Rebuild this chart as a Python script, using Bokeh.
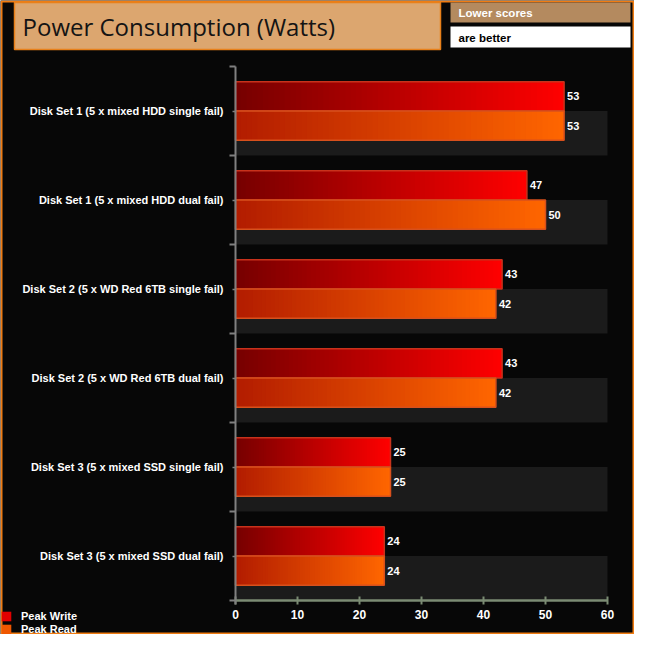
from bokeh.plotting import figure
from bokeh.models import (ColumnDataSource, FixedTicker, Label, BoxAnnotation,
                          Legend, LegendItem, Range1d)
from bokeh.core.properties import value
from bokeh.embed import file_html
from bokeh.resources import INLINE

categories = [
    "Disk Set 1 (5 x mixed HDD single fail)",
    "Disk Set 1 (5 x mixed HDD dual fail)",
    "Disk Set 2 (5 x WD Red 6TB single fail)",
    "Disk Set 2 (5 x WD Red 6TB dual fail)",
    "Disk Set 3 (5 x mixed SSD single fail)",
    "Disk Set 3 (5 x mixed SSD dual fail)",
]
peak_write = [53, 47, 43, 43, 25, 24]
peak_read = [53, 50, 42, 42, 25, 24]
series_names = ["Peak Write", "Peak Read"]
x_ticks = [0, 10, 20, 30, 40, 50, 60]

FONT = "Liberation Sans"
N = 60
n = len(categories)
centers = [n - i - 0.5 for i in range(n)]

W = H = 634
# plot area in canvas pixels
FL, FR, FT, FB = 235, 607, 66, 600
XMAX = 60
px_x = (FR - FL) / XMAX
px_y = (FB - FT) / n

p = figure(width=W, height=H, output_backend="svg", toolbar_location=None,
           x_range=Range1d(-FL / px_x, XMAX + (W - FR) / px_x),
           y_range=Range1d(-(H - FB) / px_y, n + FT / px_y),
           min_border=0)
p.background_fill_color = "#070707"
p.border_fill_color = "#070707"
p.outline_line_color = None
p.grid.visible = False

# lighter bands (lower half of each category)
p.hbar(y=[c - 0.25 for c in centers], left=0, right=XMAX, height=0.5,
       fill_color="#1b1b1b", line_color=None)


def lerp(c1, c2, t):
    return "#%02x%02x%02x" % tuple(int(round(a + (b - a) * t)) for a, b in zip(c1, c2))


def gradient_bars(vals, off, c_lo, c_hi, line_col):
    # overlapping slices 0..v*k/N, longest (brightest) first -> smooth gradient
    ys, rs, cs = [], [], []
    for k in range(N, 0, -1):
        for c, v in zip(centers, vals):
            ys.append(c + off)
            rs.append(v * k / N)
            cs.append(lerp(c_lo, c_hi, (k - 0.5) / N))
    src = ColumnDataSource(dict(y=ys, right=rs, color=cs))
    r = p.hbar(y="y", left=0, right="right", height=0.33, source=src,
               fill_color="color", line_color=None)
    p.hbar(y=[c + off for c in centers], left=0, right=vals, height=0.33,
           fill_color=None, line_color=line_col, line_width=1.5)
    p.text(x=vals, y=[c + off for c in centers], text=[str(v) for v in vals],
           x_offset=3, text_color="white", text_font=value(FONT),
           text_font_style="bold", text_font_size="11px",
           text_baseline="middle", text_align="left")
    return r


rw = gradient_bars(peak_write, 0.165, (118, 0, 0), (255, 0, 0), "#c8321c")
rr = gradient_bars(peak_read, -0.165, (178, 28, 0), (255, 102, 0), "#d8501c")

legend = Legend(items=[LegendItem(label=series_names[0], renderers=[rw], index=n * 12),
                       LegendItem(label=series_names[1], renderers=[rr], index=n * 12)],
                location=(0, -1), orientation="vertical",
                background_fill_alpha=0, border_line_alpha=0,
                label_text_color="white", label_text_font=FONT,
                label_text_font_style="bold", label_text_font_size="11px",
                glyph_width=12, glyph_height=12, spacing=1, padding=0, margin=0,
                label_standoff=9, label_height=12)
p.add_layout(legend, "center")

# axes fixed at the data origin
xa = p.xaxis[0]
xa.fixed_location = 0
xa.bounds = (0, XMAX)
xa.ticker = FixedTicker(ticks=x_ticks)
xa.axis_line_color = "#7b8b73"
xa.axis_line_width = 2.5
xa.major_tick_line_color = "#7b8b73"
xa.major_tick_line_width = 2
xa.major_tick_in = 4
xa.major_tick_out = 4
xa.minor_tick_line_color = None
xa.major_label_text_color = "white"
xa.major_label_text_font = FONT
xa.major_label_text_font_style = "bold"
xa.major_label_text_font_size = "12px"
xa.major_label_standoff = 5

ya = p.yaxis[0]
ya.fixed_location = 0
ya.bounds = (-0.05, n)
ya.ticker = FixedTicker(ticks=centers, minor_ticks=list(range(n + 1)))
ya.major_label_overrides = {c: cat for c, cat in zip(centers, categories)}
ya.axis_line_color = "#808080"
ya.axis_line_width = 2
ya.major_tick_line_color = "#808080"
ya.major_tick_line_width = 1.5
ya.major_tick_in = 0
ya.major_tick_out = 3
ya.minor_tick_line_color = "#808080"
ya.minor_tick_line_width = 2
ya.minor_tick_in = 0
ya.minor_tick_out = 6
ya.major_label_text_color = "white"
ya.major_label_text_font = FONT
ya.major_label_text_font_style = "bold"
ya.major_label_text_font_size = "11px"
ya.major_label_standoff = 6


def box(l, r, t, b, **kw):
    p.add_layout(BoxAnnotation(left=l, right=r, top=H - t, bottom=H - b,
                               left_units="screen", right_units="screen",
                               top_units="screen", bottom_units="screen",
                               line_alpha=1, **kw))


def label(x, y, text, **kw):
    p.add_layout(Label(x=x, y=H - y, x_units="screen", y_units="screen",
                       text=text, text_baseline="middle", **kw))


# outer border
box(1, W - 1, 1, H - 1, fill_alpha=0, line_color="#f07c12", line_width=2)
# header
box(14, 440, 2, 49, fill_color="#dca66f", fill_alpha=1,
    line_color="#e8801a", line_width=1.5)
label(22, 26, "Power Consumption (Watts)", text_color="#141414",
      text_font="Open Sans", text_font_size="24px")
box(450, 630, 2, 22, fill_color="#b48a5f", fill_alpha=1, line_color=None)
label(458, 12, "Lower scores", text_color="white",
      text_font=FONT, text_font_style="bold", text_font_size="11.5px")
box(450, 630, 26, 47, fill_color="white", fill_alpha=1, line_color=None)
label(458, 37, "are better", text_color="black",
      text_font=FONT, text_font_style="bold", text_font_size="11.5px")

open("out.html", "w").write(file_html(p, INLINE))
